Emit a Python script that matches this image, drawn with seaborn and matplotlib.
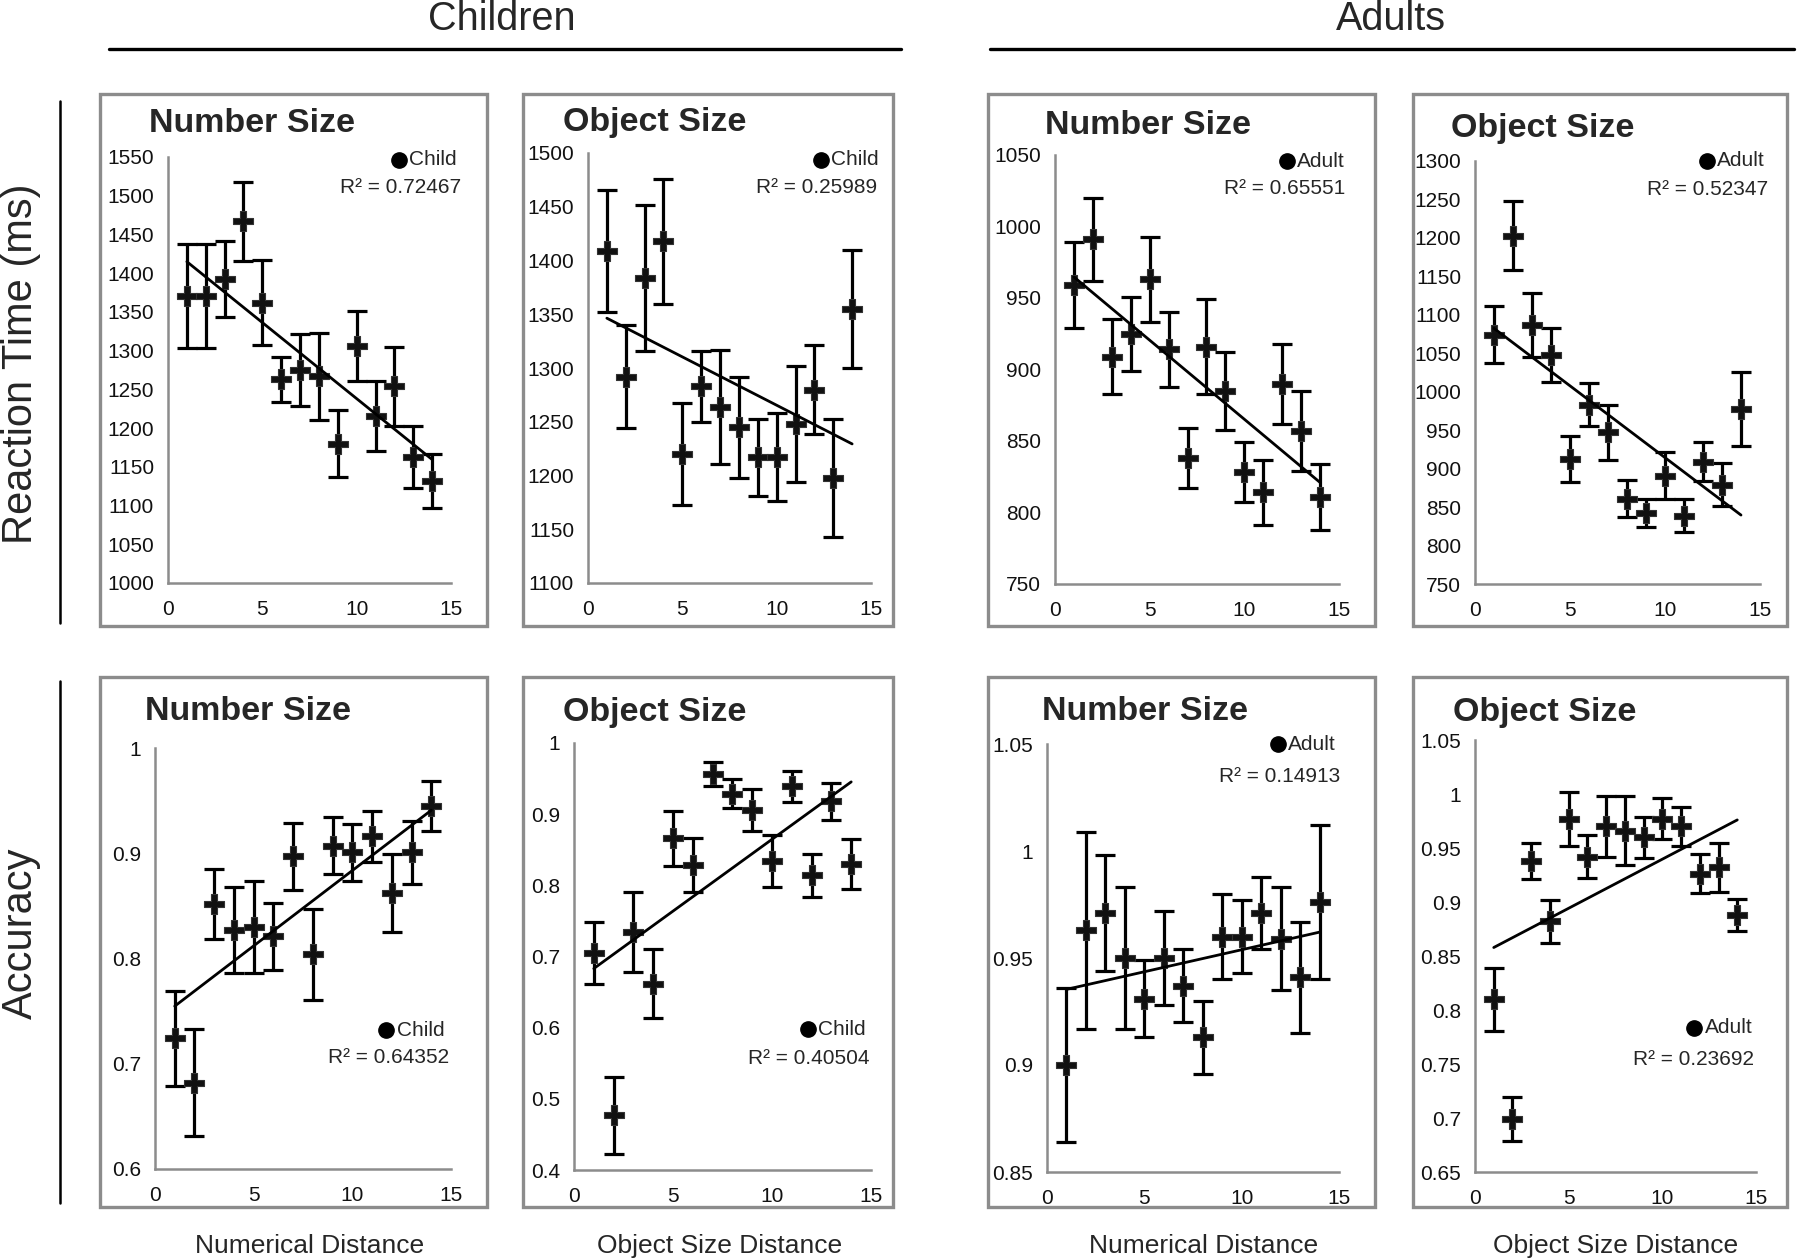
import numpy as np
import matplotlib
matplotlib.use("Agg")
import matplotlib.pyplot as plt
import seaborn as sns
from matplotlib.lines import Line2D
from matplotlib.patches import Rectangle

# distance bins (x axis)
distance = list(range(1, 15))

# Reaction time (ms) - children
child_rt_number = [1371, 1371, 1393, 1467, 1362, 1263, 1275, 1267, 1180, 1306, 1216, 1254, 1163, 1132]
child_rt_number_err = [67, 67, 49, 51, 55, 29, 47, 56, 43, 45, 45, 51, 40, 35]
child_rt_object = [1409, 1292, 1384, 1418, 1220, 1283, 1264, 1245, 1217, 1217, 1248, 1280, 1198, 1355]
child_rt_object_err = [57, 48, 68, 58, 47, 33, 53, 47, 36, 41, 54, 41, 55, 55]

# Reaction time (ms) - adults
adult_rt_number = [959, 991, 909, 925, 963, 914, 838, 916, 885, 828, 814, 890, 857, 811]
adult_rt_number_err = [30, 29, 26, 26, 30, 26, 21, 33, 27, 21, 23, 28, 28, 23]
adult_rt_object = [1074, 1203, 1087, 1048, 913, 983, 947, 861, 842, 891, 839, 909, 879, 978]
adult_rt_object_err = [37, 45, 42, 35, 30, 28, 36, 24, 18, 31, 21, 25, 28, 48]

# Accuracy - children
child_acc_number = [0.724, 0.682, 0.852, 0.827, 0.830, 0.821, 0.897, 0.804, 0.907, 0.901, 0.916, 0.862, 0.901, 0.945]
child_acc_number_err = [0.045, 0.051, 0.033, 0.041, 0.044, 0.032, 0.032, 0.043, 0.027, 0.027, 0.024, 0.037, 0.030, 0.024]
child_acc_object = [0.705, 0.477, 0.734, 0.662, 0.866, 0.828, 0.957, 0.929, 0.906, 0.834, 0.939, 0.814, 0.918, 0.830]
child_acc_object_err = [0.043, 0.054, 0.056, 0.049, 0.039, 0.038, 0.017, 0.021, 0.030, 0.037, 0.022, 0.030, 0.026, 0.035]

# Accuracy - adults
adult_acc_number = [0.900, 0.963, 0.971, 0.950, 0.931, 0.950, 0.937, 0.913, 0.960, 0.960, 0.971, 0.959, 0.941, 0.976]
adult_acc_number_err = [0.036, 0.046, 0.027, 0.033, 0.018, 0.022, 0.017, 0.017, 0.020, 0.017, 0.017, 0.024, 0.026, 0.036]
adult_acc_object = [0.810, 0.699, 0.938, 0.882, 0.977, 0.942, 0.970, 0.966, 0.960, 0.977, 0.970, 0.926, 0.932, 0.888]
adult_acc_object_err = [0.029, 0.020, 0.017, 0.020, 0.025, 0.020, 0.028, 0.032, 0.019, 0.019, 0.018, 0.018, 0.023, 0.015]

# R squared labels
r2_labels = ["0.72467", "0.25989", "0.65551", "0.52347",
             "0.64352", "0.40504", "0.14913", "0.23692"]

panel_titles = ["Number Size", "Object Size", "Number Size", "Object Size"] * 2
group_labels = ["Child", "Child", "Adult", "Adult"] * 2
# y axis (min, max, step)
y_ranges = [(1000, 1550, 50), (1100, 1500, 50), (750, 1050, 50), (750, 1300, 50),
            (0.6, 1.0, 0.1), (0.4, 1.0, 0.1), (0.85, 1.05, 0.05), (0.65, 1.05, 0.05)]

series = [
    (child_rt_number, child_rt_number_err), (child_rt_object, child_rt_object_err),
    (adult_rt_number, adult_rt_number_err), (adult_rt_object, adult_rt_object_err),
    (child_acc_number, child_acc_number_err), (child_acc_object, child_acc_object_err),
    (adult_acc_number, adult_acc_number_err), (adult_acc_object, adult_acc_object_err),
]

# ---- layout (pixels in the 1800x1260 canvas) ----
W, H = 1800, 1260
axes_px = [(168, 451, 157, 583), (588, 871, 153, 583), (1055, 1339, 155, 584), (1475, 1760, 161, 584),
           (155, 451, 748, 1169), (574, 871, 743, 1170), (1047, 1339, 744, 1172), (1475, 1756, 740, 1172)]
box_x = [(100, 487), (523, 893), (988, 1375), (1413, 1787)]
box_y = [(94, 626), (677, 1207)]
title_px = [(149, 124), (563, 123), (1045, 125), (1451, 129),
            (145, 711), (563, 713), (1042, 712), (1453, 712)]
# marker x, marker y, r2 right, r2 y (axes fraction)
legend_pos = [(0.815, 0.993, 1.036, 0.929), (0.823, 0.984, 1.020, 0.920),
              (0.816, 0.986, 1.023, 0.921), (0.813, 1.000, 1.029, 0.932),
              (0.781, 0.330, 0.994, 0.265), (0.788, 0.330, 0.994, 0.261),
              (0.791, 1.000, 1.003, 0.925), (0.781, 0.334, 0.994, 0.261)]

sns.set_style("white")
plt.rcParams["font.family"] = ["Liberation Sans", "DejaVu Sans"]

fig = plt.figure(figsize=(W / 100, H / 100), dpi=100)


def fx(x):
    return x / W


def fy(y):
    return 1 - y / H


axis_gray = "#8c8c8c"

# panel frames
for (y0, y1) in box_y:
    for (x0, x1) in box_x:
        fig.add_artist(Rectangle((fx(x0), fy(y1)), (x1 - x0) / W, (y1 - y0) / H,
                                 transform=fig.transFigure, fill=False,
                                 ec=axis_gray, lw=2.4))

for i, ((vals, errs), (l, r, t, b)) in enumerate(zip(series, axes_px)):
    ax = fig.add_axes([fx(l), fy(b), (r - l) / W, (b - t) / H])
    ax.set_facecolor("none")

    ax.errorbar(distance, vals, yerr=errs, fmt="none", ecolor="black",
                elinewidth=2.3, capsize=7, capthick=2.3, zorder=3)
    sns.scatterplot(x=distance, y=vals, ax=ax, marker="P", s=190,
                    color="#111111", edgecolor="#333333", linewidth=0.8,
                    zorder=4, legend=False)
    sns.regplot(x=distance, y=vals, ax=ax, scatter=False, ci=None,
                color="black", line_kws={"lw": 2.0, "zorder": 5})

    lo, hi, step = y_ranges[i]
    ticks = np.round(np.arange(lo, hi + step / 2, step), 4)
    ax.set_ylim(lo, hi)
    ax.set_yticks(ticks)
    ax.set_yticklabels([f"{v:g}" for v in ticks])
    ax.set_xlim(0, 15)
    ax.set_xticks(range(0, 16))
    ax.set_xticklabels([str(v) if v % 5 == 0 else "" for v in range(0, 16)])
    ax.set_xlabel("")
    ax.set_ylabel("")

    for side in ["top", "right"]:
        ax.spines[side].set_visible(False)
    for side in ["left", "bottom"]:
        ax.spines[side].set_color(axis_gray)
        ax.spines[side].set_linewidth(1.8)
    ax.tick_params(axis="both", direction="out", length=4, width=1.5,
                   color=axis_gray, labelsize=15, labelcolor="#111111")
    ax.tick_params(axis="y", pad=6)
    ax.tick_params(axis="x", pad=8)

    mx, my, rr, ry = legend_pos[i]
    ax.plot([mx], [my], "o", color="black", markersize=11,
            transform=ax.transAxes, clip_on=False)
    ax.annotate(group_labels[i], xy=(mx, my), xycoords="axes fraction",
                xytext=(7.5, 0), textcoords="offset points",
                ha="left", va="center", fontsize=15)
    ax.text(rr, ry, "R\u00b2 = " + r2_labels[i], transform=ax.transAxes,
            ha="right", va="center", fontsize=15)

    tx, ty = title_px[i]
    fig.text(fx(tx), fy(ty), panel_titles[i], ha="left", va="center",
             fontsize=24.5, fontweight="bold")

# group headers
fig.text(fx(502), fy(19), "Children", ha="center", va="center", fontsize=28.5)
fig.text(fx(1391), fy(19), "Adults", ha="center", va="center", fontsize=28.5)
fig.add_artist(Line2D([fx(109), fx(901)], [fy(49), fy(49)], color="black", lw=2.4))
fig.add_artist(Line2D([fx(990), fx(1794)], [fy(49), fy(49)], color="black", lw=2.4))

# row labels
fig.text(fx(21), fy(364), "Reaction Time (ms)", rotation=90, ha="center",
         va="center", fontsize=30)
fig.text(fx(21), fy(933), "Accuracy", rotation=90, ha="center",
         va="center", fontsize=30)
fig.add_artist(Line2D([fx(60), fx(60)], [fy(101), fy(623)], color="black", lw=1.8))
fig.add_artist(Line2D([fx(60), fx(60)], [fy(681), fy(1203)], color="black", lw=1.8))

# x axis labels
for (x, label) in [(310, "Numerical Distance"), (720, "Object Size Distance"),
                   (1204, "Numerical Distance"), (1616, "Object Size Distance")]:
    fig.text(fx(x), fy(1246), label, ha="center", va="center", fontsize=19)

fig.savefig("out.png", dpi=100)
